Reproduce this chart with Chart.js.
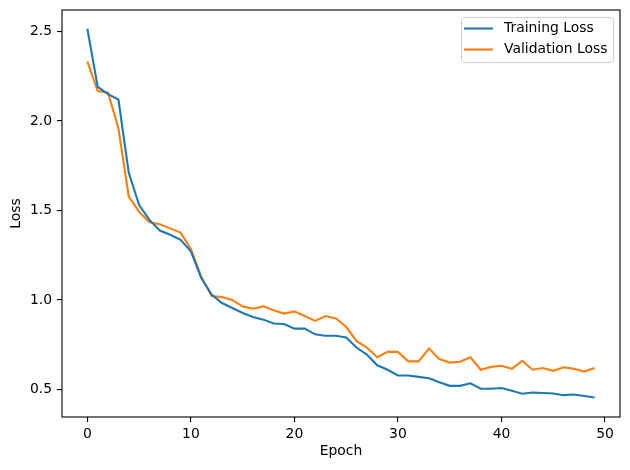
<!DOCTYPE html>
<html>
<head>
<meta charset="utf-8">
<script src="https://cdn.jsdelivr.net/npm/chart.js@4/dist/chart.umd.min.js"></script>
<style>
    body { margin: 0; background: #fff; }
    canvas { display: block; }
</style>
</head>
<body>
<canvas id="lossChart" width="630" height="470"></canvas>
<script>
const epochs = [0, 1, 2, 3, 4, 5, 6, 7, 8, 9,
    10, 11, 12, 13, 14, 15, 16, 17, 18, 19,
    20, 21, 22, 23, 24, 25, 26, 27, 28, 29,
    30, 31, 32, 33, 34, 35, 36, 37, 38, 39,
    40, 41, 42, 43, 44, 45, 46, 47, 48, 49];

const trainingLoss = [2.515, 2.19, 2.15, 2.12, 1.71, 1.53, 1.447, 1.388, 1.364, 1.336,
    1.272, 1.122, 1.03, 0.983, 0.955, 0.927, 0.905, 0.89, 0.868, 0.866,
    0.84, 0.84, 0.808, 0.80, 0.80, 0.79, 0.734, 0.695, 0.635, 0.61,
    0.578, 0.578, 0.57, 0.563, 0.54, 0.52, 0.52, 0.534, 0.504, 0.504,
    0.508, 0.493, 0.476, 0.483, 0.48, 0.477, 0.468, 0.472, 0.463, 0.455];

const validationLoss = [2.333, 2.167, 2.158, 1.958, 1.577, 1.493, 1.434, 1.423, 1.40, 1.376,
    1.285, 1.13, 1.022, 1.016, 1.0, 0.964, 0.951, 0.964, 0.942, 0.924,
    0.936, 0.91, 0.883, 0.91, 0.897, 0.85, 0.77, 0.734, 0.68, 0.71,
    0.71, 0.657, 0.657, 0.728, 0.67, 0.65, 0.655, 0.68, 0.61, 0.626,
    0.632, 0.615, 0.66, 0.61, 0.62, 0.604, 0.624, 0.615, 0.60, 0.62];

const xTicks = [0, 10, 20, 30, 40, 50];
const yTicks = [0.5, 1.0, 1.5, 2.0, 2.5];

const fontFamily = '"DejaVu Sans", sans-serif';
const fontSize = 13.9;

function toPoints(values) {
    return values.map((v, i) => ({ x: epochs[i], y: v }));
}

// black box around the plot area, like matplotlib's spines
const framePlugin = {
    id: 'frame',
    afterDatasetsDraw(chart) {
        const { ctx, chartArea: a } = chart;
        ctx.save();
        ctx.strokeStyle = '#000';
        ctx.lineWidth = 1.1;
        ctx.strokeRect(a.left, a.top, a.right - a.left, a.bottom - a.top);
        ctx.restore();
    }
};

// legend drawn inside the plot, upper right
const insideLegend = {
    id: 'insideLegend',
    afterDraw(chart) {
        const ctx = chart.ctx;
        const x = 461, y = 17, w = 152, h = 45;
        ctx.save();
        ctx.fillStyle = 'rgba(255,255,255,0.8)';
        ctx.strokeStyle = '#d0d0d0';
        ctx.lineWidth = 1;
        ctx.beginPath();
        ctx.roundRect(x + 0.5, y + 0.5, w, h, 3);
        ctx.fill();
        ctx.stroke();
        ctx.font = fontSize + 'px ' + fontFamily;
        ctx.textBaseline = 'middle';
        chart.data.datasets.forEach((ds, i) => {
            const rowY = y + 11.5 + i * 21;
            ctx.strokeStyle = ds.borderColor;
            ctx.lineWidth = 2.1;
            ctx.beginPath();
            ctx.moveTo(x + 3, rowY);
            ctx.lineTo(x + 32, rowY);
            ctx.stroke();
            ctx.fillStyle = '#000';
            ctx.fillText(ds.label, x + 43, rowY);
        });
        ctx.restore();
    }
};

const ctx = document.getElementById('lossChart').getContext('2d');
new Chart(ctx, {
    type: 'line',
    data: {
        datasets: [{
            label: 'Training Loss',
            data: toPoints(trainingLoss),
            borderColor: '#1f77b4',
            backgroundColor: '#1f77b4',
            borderWidth: 2.1,
            pointRadius: 0,
            tension: 0
        }, {
            label: 'Validation Loss',
            data: toPoints(validationLoss),
            borderColor: '#ff7f0e',
            backgroundColor: '#ff7f0e',
            borderWidth: 2.1,
            pointRadius: 0,
            tension: 0
        }]
    },
    options: {
        responsive: false,
        animation: false,
        layout: {
            padding: { top: 10, right: 10, left: 0, bottom: 0 }
        },
        plugins: {
            legend: { display: false },
            tooltip: { enabled: false }
        },
        scales: {
            x: {
                type: 'linear',
                min: -2.45,
                max: 51.45,
                afterBuildTicks: axis => {
                    axis.ticks = xTicks.map(v => ({ value: v }));
                },
                afterFit: axis => {
                    axis.height = 53;
                    axis.paddingLeft = 0;
                    axis.paddingRight = 0;
                },
                grid: {
                    display: true,
                    drawOnChartArea: false,
                    drawTicks: true,
                    tickLength: 5,
                    color: '#000',
                    lineWidth: 1.1
                },
                border: { display: false },
                ticks: {
                    color: '#000',
                    padding: 4,
                    maxRotation: 0,
                    font: { family: fontFamily, size: fontSize }
                },
                title: {
                    display: true,
                    text: 'Epoch',
                    color: '#000',
                    padding: { top: 4, bottom: 10 },
                    font: { family: fontFamily, size: fontSize }
                }
            },
            y: {
                type: 'linear',
                min: 0.346,
                max: 2.62,
                afterBuildTicks: axis => {
                    axis.ticks = yTicks.map(v => ({ value: v }));
                },
                afterFit: axis => {
                    axis.width = 62;
                    axis.paddingTop = 0;
                    axis.paddingBottom = 0;
                },
                grid: {
                    display: true,
                    drawOnChartArea: false,
                    drawTicks: true,
                    tickLength: 5,
                    color: '#000',
                    lineWidth: 1.1
                },
                border: { display: false },
                ticks: {
                    color: '#000',
                    padding: 5,
                    callback: v => v.toFixed(1),
                    font: { family: fontFamily, size: fontSize }
                },
                title: {
                    display: true,
                    text: 'Loss',
                    color: '#000',
                    padding: { top: 8.5, bottom: 4 },
                    font: { family: fontFamily, size: fontSize }
                }
            }
        }
    },
    plugins: [framePlugin, insideLegend]
});
</script>
</body>
</html>
